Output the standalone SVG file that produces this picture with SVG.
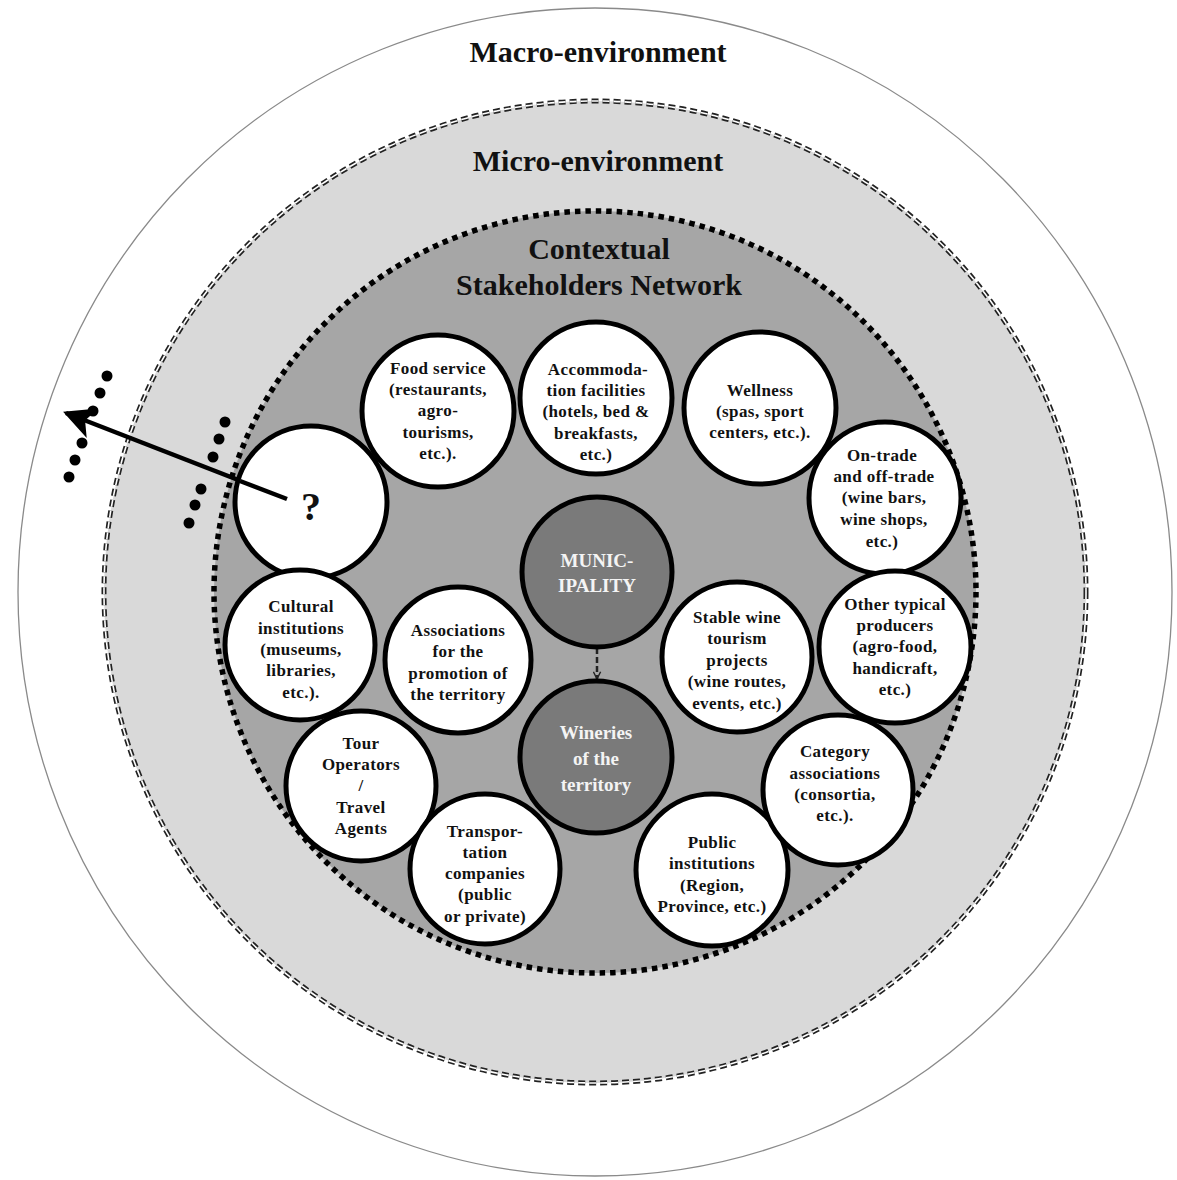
<svg xmlns="http://www.w3.org/2000/svg" width="1177" height="1180" viewBox="0 0 1177 1180">
<defs>
<style>
.t{font-family:"Liberation Serif","Times New Roman",serif;font-weight:bold;fill:#111;text-anchor:middle}
.title{font-size:30px}
.n{font-size:17px;letter-spacing:0.4px}
.w{fill:#f4f4f4;font-size:19px}
.node{fill:#fff;stroke:#000;stroke-width:5}
.dark{fill:#7a7a7a;stroke:#000;stroke-width:5}
.dot{fill:#000}
</style>
<marker id="ah" viewBox="0 0 10 10" refX="9" refY="5" markerWidth="9" markerHeight="9" orient="auto" markerUnits="userSpaceOnUse">
<path d="M1,1 L9,5 L1,9" fill="none" stroke="#222" stroke-width="1.6"/>
</marker>
<marker id="big" viewBox="0 0 10 10" refX="9" refY="5" markerWidth="7" markerHeight="7" orient="auto">
<path d="M0,0 L10,5 L0,10 L2.5,5 Z" fill="#000"/>
</marker>
</defs>
<rect width="1177" height="1180" fill="#fff"/>
<g id="macro">
<ellipse cx="595" cy="592" rx="577" ry="584" fill="#fff" stroke="#8a8a8a" stroke-width="1.3"/>
<text class="t title" x="598" y="62">Macro-environment</text>
</g>
<g id="micro">
<circle cx="595" cy="592" r="491" fill="#d9d9d9" stroke="#222" stroke-width="5" stroke-dasharray="7 4"/>
<circle cx="595" cy="592" r="491" fill="none" stroke="#fff" stroke-width="1.6" stroke-dasharray="7 4"/>
<text class="t title" x="598" y="171">Micro-environment</text>
</g>
<g id="contextual">
<circle cx="595" cy="592" r="381" fill="#a6a6a6" stroke="#000" stroke-width="5.5" stroke-dasharray="5.5 5"/>
<text class="t title" x="599" y="259">Contextual</text>
<text class="t title" x="599" y="295" font-size="31">Stakeholders Network</text>
</g>
<g id="connectors">
<line x1="597" y1="648" x2="597" y2="679" stroke="#222" stroke-width="2.5" stroke-dasharray="6 3" marker-end="url(#ah)"/>
<line x1="287" y1="499" x2="66" y2="413" stroke="#000" stroke-width="4.5" marker-end="url(#big)"/>
</g>
<g id="dots">
<circle class="dot" cx="107" cy="376" r="5.5"/>
<circle class="dot" cx="100" cy="393" r="5.5"/>
<circle class="dot" cx="93" cy="411" r="5.5"/>
<circle class="dot" cx="82" cy="443" r="5.5"/>
<circle class="dot" cx="75" cy="460" r="5.5"/>
<circle class="dot" cx="69" cy="477" r="5.5"/>
<circle class="dot" cx="225" cy="422" r="5.5"/>
<circle class="dot" cx="219" cy="439" r="5.5"/>
<circle class="dot" cx="213" cy="457" r="5.5"/>
<circle class="dot" cx="201" cy="489" r="5.5"/>
<circle class="dot" cx="195" cy="505" r="5.5"/>
<circle class="dot" cx="189" cy="523" r="5.5"/>
</g>
<g id="node-unknown">
<circle class="node" cx="311" cy="502" r="76"/>
<text class="t" x="311" y="520" font-size="40">?</text>
</g>
<line x1="287" y1="499" x2="240" y2="481" stroke="#000" stroke-width="4.5"/>
<g id="node-food">
<circle class="node" cx="438" cy="411" r="76"/>
<text class="t n" x="438" y="374">Food service</text>
<text class="t n" x="438" y="395">(restaurants,</text>
<text class="t n" x="438" y="416">agro-</text>
<text class="t n" x="438" y="438">tourisms,</text>
<text class="t n" x="438" y="459">etc.).</text>
</g>
<g id="node-accommodation">
<circle class="node" cx="596" cy="398" r="76"/>
<text class="t n" x="598" y="375">Accommoda-</text>
<text class="t n" x="596" y="396">tion facilities</text>
<text class="t n" x="596" y="417">(hotels, bed &amp;</text>
<text class="t n" x="596" y="439">breakfasts,</text>
<text class="t n" x="596" y="460">etc.)</text>
</g>
<g id="node-wellness">
<circle class="node" cx="760" cy="408" r="76"/>
<text class="t n" x="760" y="396">Wellness</text>
<text class="t n" x="760" y="417">(spas, sport</text>
<text class="t n" x="760" y="438">centers, etc.).</text>
</g>
<g id="node-ontrade">
<circle class="node" cx="885" cy="498" r="76"/>
<text class="t n" x="882" y="461">On-trade</text>
<text class="t n" x="884" y="482">and off-trade</text>
<text class="t n" x="884" y="503">(wine bars,</text>
<text class="t n" x="884" y="525">wine shops,</text>
<text class="t n" x="882" y="547">etc.)</text>
</g>
<g id="node-other">
<circle class="node" cx="895" cy="647" r="76"/>
<text class="t n" x="895" y="610">Other typical</text>
<text class="t n" x="895" y="631">producers</text>
<text class="t n" x="895" y="652">(agro-food,</text>
<text class="t n" x="895" y="674">handicraft,</text>
<text class="t n" x="895" y="695">etc.)</text>
</g>
<g id="node-municipality">
<circle class="dark" cx="597" cy="572" r="75"/>
<text class="t w" x="597" y="567" font-size="19">MUNIC-</text>
<text class="t w" x="597" y="592" font-size="19">IPALITY</text>
</g>
<g id="node-wineries">
<circle class="dark" cx="596" cy="757" r="76"/>
<text class="t w" x="596" y="739">Wineries</text>
<text class="t w" x="596" y="765">of the</text>
<text class="t w" x="596" y="791">territory</text>
</g>
<g id="node-stable">
<circle class="node" cx="737" cy="657" r="75"/>
<text class="t n" x="737" y="623">Stable wine</text>
<text class="t n" x="737" y="644">tourism</text>
<text class="t n" x="737" y="666">projects</text>
<text class="t n" x="737" y="687">(wine routes,</text>
<text class="t n" x="737" y="709">events, etc.)</text>
</g>
<g id="node-associations">
<circle class="node" cx="458" cy="660" r="73"/>
<text class="t n" x="458" y="636">Associations</text>
<text class="t n" x="458" y="657">for the</text>
<text class="t n" x="458" y="679">promotion of</text>
<text class="t n" x="458" y="700">the territory</text>
</g>
<g id="node-cultural">
<circle class="node" cx="300" cy="645" r="75"/>
<text class="t n" x="301" y="612">Cultural</text>
<text class="t n" x="301" y="634">institutions</text>
<text class="t n" x="301" y="655">(museums,</text>
<text class="t n" x="301" y="676">libraries,</text>
<text class="t n" x="301" y="698">etc.).</text>
</g>
<g id="node-tour">
<circle class="node" cx="361" cy="786" r="75"/>
<text class="t n" x="361" y="749">Tour</text>
<text class="t n" x="361" y="770">Operators</text>
<text class="t n" x="361" y="791">/</text>
<text class="t n" x="361" y="813">Travel</text>
<text class="t n" x="361" y="834">Agents</text>
</g>
<g id="node-transport">
<circle class="node" cx="485" cy="869" r="75"/>
<text class="t n" x="485" y="837">Transpor-</text>
<text class="t n" x="485" y="858">tation</text>
<text class="t n" x="485" y="879">companies</text>
<text class="t n" x="485" y="900">(public</text>
<text class="t n" x="485" y="922">or private)</text>
</g>
<g id="node-public">
<circle class="node" cx="712" cy="870" r="76"/>
<text class="t n" x="712" y="848">Public</text>
<text class="t n" x="712" y="869">institutions</text>
<text class="t n" x="712" y="891">(Region,</text>
<text class="t n" x="712" y="912">Province, etc.)</text>
</g>
<g id="node-category">
<circle class="node" cx="838" cy="790" r="75"/>
<text class="t n" x="835" y="757">Category</text>
<text class="t n" x="835" y="779">associations</text>
<text class="t n" x="835" y="800">(consortia,</text>
<text class="t n" x="835" y="821">etc.).</text>
</g>
</svg>
